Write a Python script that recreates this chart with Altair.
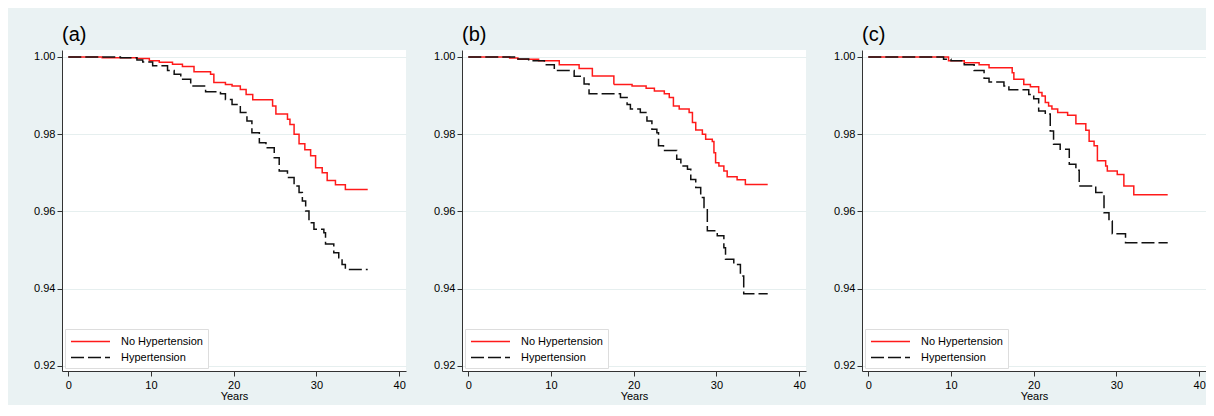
import altair as alt
import pandas as pd

groups = ["No Hypertension", "Hypertension"]
panels = ["(a)", "(b)", "(c)"]

# Panel (a)
a_no_t = [0, 4.1, 8.3, 9.8, 11.0, 12.6, 13.8, 15.2, 17.2, 17.6, 19.0, 19.8, 20.8, 21.5, 22.3,
          24.7, 25.1, 26.5, 26.8, 27.3, 27.9, 28.6, 29.3, 29.9, 30.7, 31.3, 32.3, 33.5, 36.2]
a_no_s = [1.0, 0.9998, 0.9996, 0.999, 0.9986, 0.9981, 0.9975, 0.9962, 0.9955, 0.9934, 0.9929, 0.9925,
          0.9916, 0.9903, 0.9889, 0.9873, 0.9852, 0.9839, 0.9825, 0.980, 0.9775, 0.976, 0.9744, 0.9713,
          0.970, 0.968, 0.9669, 0.9657, 0.9657]
a_hy_t = [0, 6.3, 8.3, 9.0, 10.2, 12.0, 12.8, 13.6, 14.8, 16.6, 18.4, 19.0, 19.8, 20.8, 21.6, 22.2,
          23.1, 23.9, 24.9, 25.5, 26.5, 27.3, 27.9, 28.3, 28.7, 29.1, 29.7, 30.9, 31.1, 32.1, 32.7,
          33.1, 33.5, 36.2]
a_hy_s = [1.0, 0.9998, 0.9992, 0.9987, 0.9977, 0.9965, 0.9955, 0.9942, 0.9925, 0.991, 0.9905, 0.989,
          0.9877, 0.9856, 0.9834, 0.9804, 0.9778, 0.9765, 0.9739, 0.9705, 0.9688, 0.9666, 0.9649,
          0.9627, 0.9601, 0.9571, 0.9554, 0.9545, 0.9516, 0.9493, 0.948, 0.9463, 0.945, 0.945]

# Panel (b)
b_no_t = [0, 5.0, 6.0, 8.5, 11.0, 13.4, 15.0, 17.6, 19.8, 21.5, 22.5, 23.7, 24.3, 24.8, 25.5, 26.7,
          27.1, 27.5, 28.3, 28.7, 29.5, 29.7, 29.9, 30.3, 30.9, 31.3, 32.5, 33.5, 36.2]
b_no_s = [1.0, 0.9997, 0.9994, 0.999, 0.998, 0.997, 0.9951, 0.9929, 0.9925, 0.9919, 0.9912, 0.9905,
          0.9895, 0.9873, 0.9865, 0.9856, 0.983, 0.9811, 0.980, 0.9787, 0.9781, 0.9752, 0.9726,
          0.9718, 0.9705, 0.969, 0.9682, 0.967, 0.967]
b_hy_t = [0, 6.0, 7.3, 9.2, 10.4, 12.8, 14.0, 14.6, 18.4, 19.2, 19.6, 20.8, 21.6, 22.2, 22.8, 23.0,
          23.6, 25.2, 25.7, 26.5, 26.9, 27.5, 28.1, 28.5, 28.9, 30.1, 30.9, 31.1, 32.1, 32.9, 33.3, 36.2]
b_hy_s = [1.0, 0.9995, 0.999, 0.998, 0.9965, 0.995, 0.993, 0.9905, 0.9895, 0.9877, 0.9865, 0.9856,
          0.9834, 0.9813, 0.9804, 0.977, 0.9758, 0.9735, 0.9718, 0.9709, 0.9683, 0.9662, 0.9636,
          0.961, 0.955, 0.9537, 0.9506, 0.9476, 0.9463, 0.9433, 0.9387, 0.9387]

# Panel (c)
c_no_t = [0, 9.7, 11.6, 13.4, 14.6, 17.4, 17.6, 18.8, 19.6, 20.6, 21.0, 21.4, 21.8, 22.2, 22.9,
          24.1, 25.1, 26.3, 26.7, 27.3, 27.7, 28.7, 28.9, 30.1, 30.9, 32.1, 36.2]
c_no_s = [1.0, 0.999, 0.9985, 0.998, 0.9972, 0.9959, 0.9942, 0.9929, 0.9923, 0.9908, 0.9899, 0.9882,
          0.9873, 0.9865, 0.9856, 0.9849, 0.9827, 0.981, 0.9782, 0.977, 0.9731, 0.9718, 0.9705,
          0.9696, 0.9666, 0.9643, 0.9643]
c_hy_t = [0, 9.1, 10.0, 11.6, 12.8, 14.0, 14.6, 16.4, 17.0, 19.4, 20.0, 20.6, 21.4, 22.0, 22.4,
          23.2, 24.3, 25.1, 25.5, 27.5, 28.5, 29.1, 29.5, 31.1, 36.2]
c_hy_s = [1.0, 0.9994, 0.999, 0.998, 0.9965, 0.9945, 0.9935, 0.9925, 0.9915, 0.9903, 0.9892, 0.986,
          0.9852, 0.9808, 0.9774, 0.9761, 0.9722, 0.9707, 0.9666, 0.9649, 0.9597, 0.9575, 0.9542,
          0.9519, 0.9519]

x_ticks = [0, 10, 20, 30, 40]
y_ticks = [0.92, 0.94, 0.96, 0.98, 1.00]

series = {
    "(a)": [(a_no_t, a_no_s), (a_hy_t, a_hy_s)],
    "(b)": [(b_no_t, b_no_s), (b_hy_t, b_hy_s)],
    "(c)": [(c_no_t, c_no_s), (c_hy_t, c_hy_s)],
}

FONT = "Liberation Sans"
BG = "#EAF2F3"


def panel(name):
    rows = []
    for g, (ts, ss) in zip(groups, series[name]):
        for t, s in zip(ts, ss):
            rows.append({"t": t, "s": s, "group": g})
    df = pd.DataFrame(rows)
    leg = alt.Legend(
        title=None, orient="bottom-left", offset=3, fillColor="white",
        strokeColor="#dddddd", padding=5, symbolType="M-1,0H5", symbolSize=169,
        symbolStrokeWidth=1.6, labelOffset=36, labelFontSize=11, labelFont=FONT,
        labelColor="black", rowPadding=3, labelLimit=300,
    )
    return alt.Chart(df).mark_line(interpolate="step-after", strokeWidth=1.5, clip=True).encode(
        x=alt.X("t:Q", scale=alt.Scale(domain=[-0.76, 40.83], nice=False, zero=False),
                axis=alt.Axis(values=x_ticks, title="Years", grid=False, format="d",
                              tickSize=5, labelPadding=3, titlePadding=0)),
        y=alt.Y("s:Q", scale=alt.Scale(domain=[0.9187, 1.0018], nice=False, zero=False),
                axis=alt.Axis(values=y_ticks, title=None, format=".2f", grid=True,
                              tickSize=5, labelPadding=2)),
        color=alt.Color("group:N", scale=alt.Scale(domain=groups, range=["#ff1a1a", "#111111"]),
                        legend=leg),
        strokeDash=alt.StrokeDash("group:N", scale=alt.Scale(domain=groups, range=[[1, 0], [13, 4]]),
                                  legend=leg),
    ).properties(
        width=344, height=321,
        title=alt.TitleParams(name, anchor="start", frame="group", fontSize=20, font=FONT,
                              fontWeight="normal", color="black", offset=5),
    )


chart = alt.hconcat(*[panel(p) for p in panels], spacing=56, bounds="flush").resolve_scale(
    color="independent", strokeDash="independent"
).resolve_legend(
    color="independent", strokeDash="independent"
).properties(
    padding={"left": 25, "top": 17, "right": 0, "bottom": 4},
    background=BG,
).configure_view(fill="white", stroke=None).configure_axis(
    labelFont=FONT, titleFont=FONT, labelFontSize=11, titleFontSize=11,
    labelColor="black", titleColor="black", titleFontWeight="normal",
    domainColor="#333333", tickColor="#333333", gridColor="#E6EFEF", gridWidth=1,
)

chart.save("out.html", embed_options={"renderer": "svg", "actions": False})
